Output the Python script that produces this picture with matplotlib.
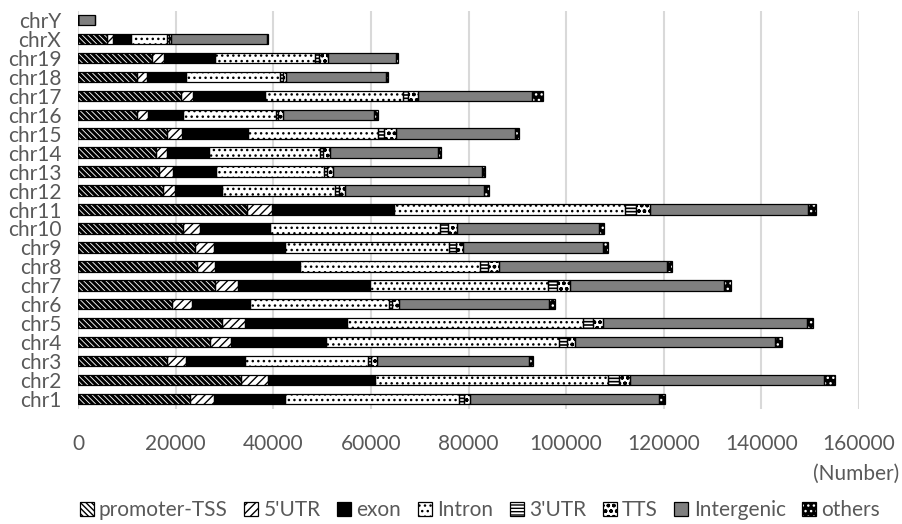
import matplotlib
matplotlib.use("Agg")
import matplotlib.pyplot as plt
from matplotlib.patches import Patch
from matplotlib.legend_handler import HandlerTuple
import numpy as np

chroms = ["chr1", "chr2", "chr3", "chr4", "chr5", "chr6", "chr7", "chr8", "chr9", "chr10",
          "chr11", "chr12", "chr13", "chr14", "chr15", "chr16", "chr17", "chr18", "chr19", "chrX", "chrY"]

promoter_tss = [22960, 33490, 18300, 26990, 29590, 19340, 28090, 24460, 24000, 21600,
                34700, 17430, 16600, 15920, 18300, 12160, 21050, 12160, 15240, 5900, 0]
utr5 = [4920, 5470, 3900, 4300, 4650, 3960, 4780, 3620, 3900, 3350,
        5125, 2390, 2870, 2390, 3075, 2190, 2530, 2050, 2390, 1370, 0]
exon = [14560, 21870, 12030, 19480, 20840, 11890, 26920, 17360, 14560, 14420,
        24940, 9640, 8750, 8540, 13530, 7180, 14760, 8000, 10450, 3550, 0]
intron = [35670, 47840, 25080, 47700, 48310, 28560, 36550, 36900, 33620, 34850,
          47350, 23230, 22200, 22700, 26650, 19000, 28150, 19200, 20500, 7500, 0]
utr3 = [1025, 2255, 680, 1640, 2050, 680, 1710, 1710, 1370, 1500,
        2190, 680, 680, 680, 1160, 480, 1160, 500, 800, 300, 0]
tts = [1160, 2255, 1230, 1780, 2190, 1370, 2800, 2255, 1500, 1850,
       2940, 1300, 1230, 1370, 2390, 890, 2050, 670, 1900, 400, 0]
intergenic = [38810, 39640, 31230, 40800, 41680, 30750, 31570, 34300, 28700, 29110,
              32400, 28430, 30400, 22070, 24460, 18800, 23300, 20500, 13800, 19600, 3400]
others = [1230, 2320, 820, 1500, 1230, 1230, 1370, 1090, 1025, 1025,
          1570, 1025, 615, 680, 820, 820, 2200, 480, 480, 300, 100]

series_names = ["promoter-TSS", "5'UTR", "exon", "Intron", "3'UTR", "TTS", "Intergenic", "others"]
series_vals = [promoter_tss, utr5, exon, intron, utr3, tts, intergenic, others]
x_ticks = [0, 20000, 40000, 60000, 80000, 100000, 120000, 140000, 160000]

# style: (facecolor, hatch color, hatch, hatch linewidth)
styles = [
    ("white", "black", "\\" * 6, 2.2),
    ("white", "black", "////", 1.0),
    ("black", "black", None, 1.0),
    ("white", "black", "...", 1.0),
    ("white", "black", "-----", 1.2),
    ("white", "black", "ooo", 1.0),
    ("#7f7f7f", "#7f7f7f", None, 1.0),
    ("black", "white", "...", 1.0),
]

plt.rcParams["font.family"] = ["Lato", "DejaVu Sans"]
txt_color = "#595959"
FS = 15

fig = plt.figure(figsize=(9.02, 5.24), dpi=100)
ax = fig.add_axes([78 / 902, 1 - 408.5 / 524, (859 - 78) / 902, (408.5 - 10.5) / 524])

y = np.arange(len(chroms))
left = np.zeros(len(chroms))
handles = []
for name, vals, (fc, hc, hatch, hlw) in zip(series_names, series_vals, styles):
    plt.rcParams["hatch.linewidth"] = hlw
    vals = np.array(vals, dtype=float)
    bars = ax.barh(y, vals, left=left, height=0.55, color=fc, edgecolor=hc, hatch=hatch,
                   linewidth=0, zorder=3)
    for b in bars:
        if hasattr(b, "set_hatch_linewidth"):
            b.set_hatch_linewidth(hlw)
    ax.barh(y, vals, left=left, height=0.55, fill=False, edgecolor="black",
            linewidth=0.9, zorder=4)
    left += vals
    p1 = Patch(facecolor=fc, edgecolor=hc, hatch=hatch, linewidth=0)
    if hasattr(p1, "set_hatch_linewidth"):
        p1.set_hatch_linewidth(hlw)
    p2 = Patch(fill=False, edgecolor="black", linewidth=0.9)
    handles.append((p1, p2))
plt.rcParams["hatch.linewidth"] = 1.0

ax.set_xlim(0, 160000)
ax.set_ylim(-0.5, len(chroms) - 0.5)
ax.set_xticks(x_ticks)
ax.set_xticklabels([str(t) for t in x_ticks])
ax.set_yticks(y)
ax.set_yticklabels(chroms)
ax.tick_params(axis="both", length=0, labelsize=FS, labelcolor=txt_color)
ax.tick_params(axis="x", pad=18)
ax.tick_params(axis="y", pad=12)
ax.grid(axis="x", color="#d9d9d9", linewidth=1.5, zorder=0)
for s in ax.spines.values():
    s.set_visible(False)

fig.text(899 / 902, 1 - 474 / 524, "(Number)", ha="right", va="center",
         fontsize=FS, color=txt_color)

fig.legend(handles, series_names, handler_map={tuple: HandlerTuple(ndivide=1)},
           loc="center", bbox_to_anchor=(480 / 902, 1 - 510 / 524), ncol=8,
           frameon=False, fontsize=FS, labelcolor=txt_color,
           handlelength=0.67, handleheight=0.67, handletextpad=0.25, columnspacing=0.8)

fig.savefig("out.png", dpi=100)
